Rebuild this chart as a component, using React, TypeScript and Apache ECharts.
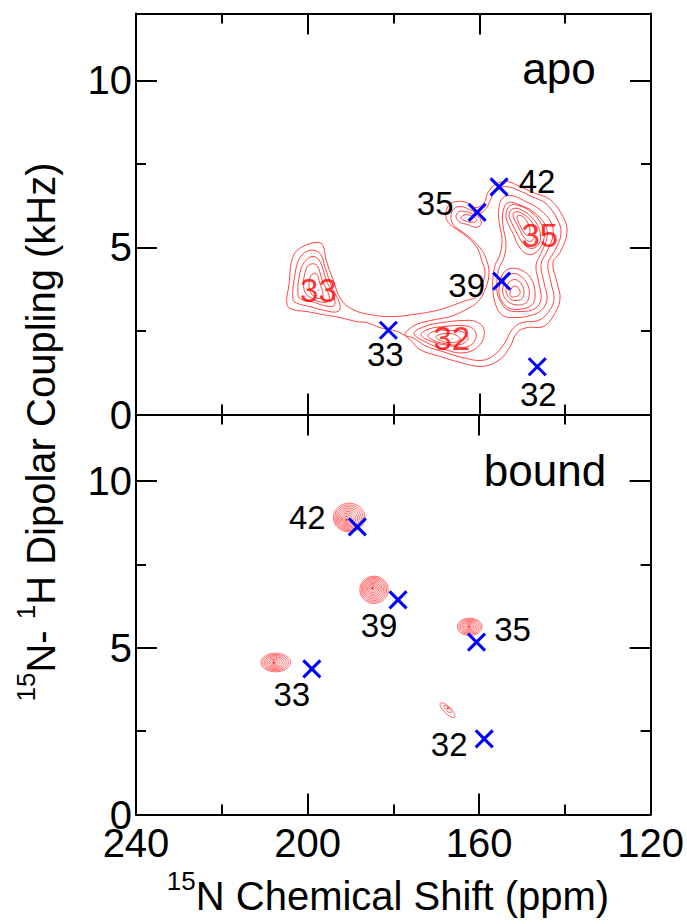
import React, { useEffect, useRef } from "react";
import * as echarts from "echarts";

const FONT = "'Liberation Sans', Arial, Helvetica, sans-serif";

// ---------- axes ----------
const shiftMin = 120;
const shiftMax = 240;
const shiftInterval = 40;
const couplingMin = 0;
const couplingMax = 12;
const couplingInterval = 5;
const couplingMinorInterval = 2.5;

// ---------- panel names ----------
const panelNames = ["apo", "bound"];

// ---------- predicted (blue X) positions ----------
const apoMarkerNames = ["42", "35", "39", "33", "32"];
const apoMarkerShift = [155.4, 160.5, 154.8, 181.2, 146.5];
const apoMarkerDC = [6.81, 6.05, 3.99, 2.52, 1.43];

const boundMarkerNames = ["42", "39", "35", "33", "32"];
const boundMarkerShift = [188.4, 178.9, 160.6, 199.0, 158.8];
const boundMarkerDC = [8.63, 6.44, 5.17, 4.37, 2.27];

// ---------- apo peak assignments (red labels) ----------
const apoPeakNames = ["33", "35", "32"];
const apoPeakShift = [197.5, 145.9, 166.4];
const apoPeakDC = [3.72, 5.36, 2.27];

// ---------- apo contour lines [ppm, kHz] ----------
const apoOuter = [
  [204.82, 3.29], [204.35, 3.89], [203.42, 4.73], [201.09, 5.03], [197.59, 5.15], [196.43, 5.06],
  [195.73, 4.64], [194.1, 4.04], [192.23, 3.44], [189.44, 3.14], [185.48, 2.99], [180.82, 2.93],
  [175.46, 2.99], [169.17, 3.14], [163.81, 3.38], [160.31, 3.56], [159.15, 3.95], [158.68, 4.28],
  [159.38, 4.58], [160.31, 4.94], [162.18, 5.24], [164.51, 5.48], [166.84, 5.69], [167.77, 5.92],
  [167.3, 6.22], [165.44, 6.37], [162.87, 6.34], [160.78, 6.19], [158.91, 6.34], [157.98, 6.64],
  [156.35, 6.88], [153.55, 6.97], [150.52, 6.82], [147.5, 6.64], [143.53, 6.43], [140.51, 5.92],
  [139.57, 5.45], [141.2, 4.85], [142.84, 4.55], [141.9, 3.95], [141.2, 3.44], [142.84, 2.93],
  [145.16, 2.63], [148.89, 2.6], [151.22, 2.45], [152.85, 2.03], [155.18, 1.65], [159.15, 1.44],
  [164.51, 1.56], [169.17, 1.74], [173.83, 1.94], [176.16, 2.24], [178.49, 2.45], [180.82, 2.54],
  [183.15, 2.6], [186.18, 2.75], [188.51, 2.78], [192.47, 2.9], [196.43, 2.99], [200.16, 3.08],
  [203.42, 3.14],
];
const apoLeft2 = [
  [203.42, 3.44], [202.95, 4.19], [201.79, 4.7], [199.46, 4.91], [197.13, 4.82], [195.96, 4.4],
  [194.33, 3.8], [192.47, 3.29], [192.93, 3.08], [195.96, 3.11], [199.46, 3.23], [202.25, 3.32],
];
const apoLeft3 = [
  [202.25, 3.56], [201.79, 4.25], [200.62, 4.58], [198.76, 4.73], [197.13, 4.58], [195.73, 4.04],
  [193.86, 3.5], [193.86, 3.26], [196.19, 3.26], [198.99, 3.38], [201.32, 3.44],
];
const apoLeft4 = [
  [200.85, 3.74], [200.62, 4.25], [199.46, 4.49], [197.83, 4.46], [196.66, 4.04], [195.03, 3.56],
  [195.26, 3.38], [197.36, 3.38], [199.69, 3.53],
];
const apoLeft5 = [
  [199.69, 3.83], [199.22, 4.16], [198.06, 4.22], [197.13, 3.92], [196.43, 3.56], [197.36, 3.47],
  [198.99, 3.59],
];
const apoRight2 = [
  [177.32, 2.39], [175.22, 2.66], [171.5, 2.81], [166.84, 2.93], [163.11, 3.14], [160.31, 3.38],
  [158.45, 3.8], [157.75, 4.25], [158.21, 4.58], [159.38, 4.91], [161.48, 5.21], [163.81, 5.45],
  [166.14, 5.69], [166.6, 5.95], [165.9, 6.16], [164.27, 6.22], [162.18, 6.13], [160.31, 6.01],
  [158.45, 6.16], [157.28, 6.46], [155.88, 6.73], [153.55, 6.82], [150.76, 6.7], [147.73, 6.52],
  [144.47, 6.31], [141.9, 5.86], [140.97, 5.42], [142.37, 4.91], [144.0, 4.52], [143.3, 3.95],
  [142.6, 3.44], [144.0, 3.05], [146.33, 2.81], [150.06, 2.75], [152.39, 2.54], [154.02, 2.15],
  [156.35, 1.8], [159.38, 1.62], [164.04, 1.71], [168.47, 1.88], [172.66, 2.06], [175.22, 2.28],
];
const apoMain3 = [
  [156.82, 4.1], [156.35, 4.46], [155.18, 4.79], [154.72, 5.24], [155.42, 5.78], [155.42, 6.19],
  [154.49, 6.49], [152.39, 6.55], [149.13, 6.37], [145.86, 6.13], [143.3, 5.75], [142.84, 5.36],
  [144.23, 4.88], [145.63, 4.49], [144.93, 3.95], [144.23, 3.44], [145.63, 3.11], [148.19, 2.96],
  [151.69, 2.9], [154.49, 2.96], [156.12, 3.26], [156.82, 3.68],
];
const apoMain4 = [
  [155.88, 4.01], [155.42, 4.37], [154.25, 4.7], [153.79, 5.12], [154.49, 5.66], [154.49, 6.07],
  [153.32, 6.34], [150.76, 6.28], [147.5, 6.07], [144.7, 5.69], [144.23, 5.3], [145.63, 4.82],
  [146.8, 4.46], [146.1, 3.92], [145.63, 3.44], [147.03, 3.17], [150.52, 3.08], [153.55, 3.14],
  [155.18, 3.41], [155.88, 3.68],
];
const apo39a = [
  [155.18, 3.92], [154.49, 4.22], [152.62, 4.37], [150.06, 4.31], [147.96, 4.07], [147.03, 3.68],
  [147.5, 3.32], [149.59, 3.17], [152.85, 3.17], [154.72, 3.38], [155.42, 3.65],
];
const apo39b = [
  [154.49, 3.8], [153.79, 4.1], [152.16, 4.22], [150.29, 4.13], [148.66, 3.86], [148.43, 3.53],
  [149.36, 3.32], [151.92, 3.29], [153.79, 3.44], [154.49, 3.62],
];
const apo39c = [
  [153.79, 3.71], [153.09, 3.95], [151.69, 4.04], [150.29, 3.92], [149.59, 3.68], [150.06, 3.47],
  [151.69, 3.41], [153.09, 3.5],
];
const apo39d = [
  [152.85, 3.65], [152.16, 3.83], [150.99, 3.8], [150.52, 3.62], [151.46, 3.53], [152.62, 3.53],
];
const apo35a = [
  [153.79, 5.98], [152.85, 6.25], [150.76, 6.25], [147.73, 6.04], [145.4, 5.66], [144.93, 5.27],
  [146.56, 4.88], [148.66, 4.79], [150.76, 5.03], [152.16, 5.42], [153.32, 5.72],
];
const apo35b = [
  [153.09, 5.98], [152.16, 6.16], [150.29, 6.13], [147.73, 5.89], [146.1, 5.57], [145.86, 5.18],
  [147.5, 4.97], [149.59, 5.09], [151.22, 5.42], [152.39, 5.72],
];
const apo35c = [
  [152.16, 5.98], [151.22, 6.07], [149.59, 5.98], [147.73, 5.75], [147.03, 5.42], [147.96, 5.18],
  [149.36, 5.27], [150.76, 5.57],
];
const apo35d = [
  [151.22, 5.92], [150.29, 5.95], [148.89, 5.78], [148.19, 5.48], [148.89, 5.36], [150.29, 5.6],
];
const apoUpper2 = [
  [165.44, 5.92], [164.74, 6.07], [163.11, 6.07], [161.24, 5.98], [159.85, 5.86], [159.61, 5.69],
  [160.78, 5.6], [162.87, 5.69], [164.51, 5.75],
];
const apoUpper3 = [
  [164.27, 5.89], [163.11, 5.98], [161.48, 5.92], [160.54, 5.81], [161.71, 5.75], [163.57, 5.81],
];
const apo32a = [
  [175.22, 2.42], [172.89, 2.63], [168.7, 2.75], [164.04, 2.81], [160.78, 2.78], [158.91, 2.54],
  [159.85, 2.09], [163.34, 1.85], [168.0, 1.94], [172.19, 2.15],
];
const apo32b = [
  [173.59, 2.39], [171.5, 2.57], [168.23, 2.63], [164.04, 2.66], [161.48, 2.57], [160.78, 2.3],
  [162.64, 2.03], [166.84, 2.06], [171.03, 2.18],
];
const apo32c = [
  [171.96, 2.36], [170.1, 2.51], [167.07, 2.51], [164.04, 2.48], [162.64, 2.27], [164.51, 2.09],
  [168.0, 2.12], [170.56, 2.21],
];
const apo32d = [
  [170.1, 2.33], [168.23, 2.42], [165.67, 2.39], [164.51, 2.24], [166.6, 2.15], [168.93, 2.21],
];
const apoContours = [
  apoOuter, apoLeft2, apoLeft3, apoLeft4, apoLeft5, apoRight2, apoMain3, apoMain4,
  apo39a, apo39b, apo39c, apo39d, apo35a, apo35b, apo35c, apo35d, apoUpper2, apoUpper3,
  apo32a, apo32b, apo32c, apo32d,
];

// ---------- bound peaks (nested contour blobs) ----------
const boundInnerShift = [190.9, 184.85, 162.34, 207.85, 167.3];
const boundInnerDC = [8.84, 6.79, 5.63, 4.55, 3.19];
const boundOuterShift = [190.3, 184.5, 162.18, 207.43, 167.35];
const boundOuterDC = [8.91, 6.74, 5.63, 4.56, 3.13];
const boundHalfWidth = [3.68, 3.31, 2.87, 3.45, 2.33]; // ppm
const boundHalfHeight = [0.43, 0.41, 0.26, 0.28, 0.105]; // kHz
const boundRingCount = [10, 10, 8, 8, 2];

// ---------- styles / layout ----------
const blobTiltDeg = [0, 0, 0, 0, 45];
const apoLabelOffsets = [[38, -5], [-42, -9], [-35, 4], [-3, 24], [1, 28]];
const boundLabelOffsets = [[-50, -9], [-19, 26], [36, -13], [-20, 26], [-35, 6]];
const RED = "#ff0000";
const CONTOUR = "#ff3030";
const BLUE = "#0000ff";
const X_SYMBOL = "path://M0,0L20,20M20,0L0,20";

function xAxisDef(gridIndex: number, position: "top" | "bottom", showLabel: boolean) {
  return {
    type: "value",
    gridIndex,
    position,
    min: shiftMin,
    max: shiftMax,
    interval: shiftInterval,
    inverse: true,
    axisLine: { show: true, onZero: false, lineStyle: { color: "#000", width: 2 } },
    axisTick: { show: true, inside: true, length: 21, lineStyle: { color: "#000", width: 2 } },
    minorTick: { show: true, splitNumber: 2, length: 10, lineStyle: { color: "#000", width: 2 } },
    splitLine: { show: false },
    minorSplitLine: { show: false },
    axisLabel: {
      show: showLabel,
      fontSize: 40,
      fontFamily: FONT,
      color: "#000",
      margin: 8,
      showMinLabel: true,
      showMaxLabel: true,
    },
  };
}

function yAxisDef(gridIndex: number, position: "left" | "right", minor: boolean, showLabel: boolean) {
  return {
    type: "value",
    gridIndex,
    position,
    min: couplingMin,
    max: couplingMax,
    interval: minor ? couplingMinorInterval : couplingInterval,
    axisLine: { show: !minor, onZero: false, lineStyle: { color: "#000", width: 2 } },
    axisTick: { show: true, inside: true, length: minor ? 10 : 21, lineStyle: { color: "#000", width: 2 } },
    splitLine: { show: false },
    axisLabel: {
      show: showLabel,
      fontSize: 40,
      fontFamily: FONT,
      color: "#000",
      margin: 4,
      formatter: (v: number) => (v % couplingInterval === 0 ? String(v) : ""),
    },
  };
}

function markerSeries(
  xAxisIndex: number,
  yAxisIndex: number,
  names: string[],
  xs: number[],
  ys: number[],
  offsets: number[][]
) {
  return {
    type: "scatter",
    xAxisIndex,
    yAxisIndex,
    symbol: X_SYMBOL,
    symbolSize: 17,
    silent: true,
    z: 5,
    itemStyle: { color: BLUE, borderColor: BLUE, borderWidth: 3, opacity: 1 },
    label: {
      show: true,
      position: "inside",
      formatter: "{b}",
      fontSize: 33,
      fontFamily: FONT,
      color: "#000000",
      opacity: 1,
      textBorderWidth: 0,
      textBorderColor: "transparent",
    },
    data: names.map((n, i) => ({
      name: n,
      value: [xs[i], ys[i]],
      label: { offset: offsets[i] },
    })),
  };
}

function richTitle(text: string) {
  return {
    text,
    align: "center",
    verticalAlign: "middle",
    rich: {
      s: { fontSize: 26, fontFamily: FONT, fill: "#000", verticalAlign: "top" },
      m: { fontSize: 40, fontFamily: FONT, fill: "#000", verticalAlign: "top", padding: [8, 0, 0, 0] },
    },
  };
}

export default function App() {
  const ref = useRef<HTMLDivElement>(null);

  useEffect(() => {
    document.body.style.margin = "0";
    const chart = echarts.init(ref.current!, undefined, { renderer: "svg" });

    const option: any = {
      animation: false,
      backgroundColor: "#fff",
      textStyle: { fontFamily: FONT },
      grid: [
        { left: 136, top: 13.5, width: 515, height: 401 },
        { left: 136, top: 414.5, width: 515, height: 400 },
      ],
      xAxis: [
        xAxisDef(0, "bottom", false),
        xAxisDef(0, "top", false),
        xAxisDef(1, "bottom", true),
        xAxisDef(1, "top", false),
      ],
      yAxis: [
        yAxisDef(0, "left", false, true),
        yAxisDef(0, "left", true, false),
        yAxisDef(0, "right", false, false),
        yAxisDef(0, "right", true, false),
        yAxisDef(1, "left", false, true),
        yAxisDef(1, "left", true, false),
        yAxisDef(1, "right", false, false),
        yAxisDef(1, "right", true, false),
      ],
      graphic: [
        {
          type: "text",
          x: 559,
          y: 68,
          silent: true,
          style: {
            text: panelNames[0],
            fontSize: 44,
            fontFamily: FONT,
            fill: "#000",
            align: "center",
            verticalAlign: "middle",
          },
        },
        {
          type: "text",
          x: 545,
          y: 470,
          silent: true,
          style: {
            text: panelNames[1],
            fontSize: 44,
            fontFamily: FONT,
            fill: "#000",
            align: "center",
            verticalAlign: "middle",
          },
        },
        {
          type: "text",
          x: 388,
          y: 892,
          silent: true,
          style: richTitle("{s|15}{m|N Chemical Shift (ppm)}"),
        },
        {
          type: "text",
          x: 37,
          y: 432,
          rotation: Math.PI / 2,
          silent: true,
          style: richTitle("{s|15}{m|N- }{s|1}{m|H Dipolar Coupling (kHz)}"),
        },
      ],
      series: [
        {
          type: "custom",
          xAxisIndex: 0,
          yAxisIndex: 0,
          silent: true,
          z: 2,
          encode: { x: 0, y: 1 },
          data: apoContours.map((ring, i) => [ring[0][0], ring[0][1], i]),
          renderItem: (params: any, api: any) => {
            const ring = apoContours[params.dataIndex];
            const pts = ring.map((p) => api.coord(p));
            return {
              type: "polygon",
              shape: { points: pts, smooth: 0.4 },
              style: { fill: "rgba(0,0,0,0)", stroke: CONTOUR, lineWidth: 0.9 },
            };
          },
        },
        {
          type: "custom",
          xAxisIndex: 2,
          yAxisIndex: 4,
          silent: true,
          z: 2,
          encode: { x: 0, y: 1 },
          data: boundInnerShift.map((x, i) => [x, boundInnerDC[i]]),
          renderItem: (params: any, api: any) => {
            const i = params.dataIndex;
            const inner = api.coord([boundInnerShift[i], boundInnerDC[i]]);
            const outer = api.coord([boundOuterShift[i], boundOuterDC[i]]);
            const size = api.size([boundHalfWidth[i] * 2, boundHalfHeight[i] * 2]);
            const n = boundRingCount[i];
            const rot = (-blobTiltDeg[i] * Math.PI) / 180;
            const children: any[] = [];
            for (let k = 1; k <= n; k++) {
              const t = k / n;
              children.push({
                type: "ellipse",
                x: inner[0] + (outer[0] - inner[0]) * t,
                y: inner[1] + (outer[1] - inner[1]) * t,
                rotation: rot,
                shape: { cx: 0, cy: 0, rx: (size[0] / 2) * t, ry: (size[1] / 2) * t },
                style: { fill: "rgba(0,0,0,0)", stroke: CONTOUR, lineWidth: 0.7 },
              });
            }
            children.push({
              type: "circle",
              shape: { cx: inner[0], cy: inner[1], r: 0.9 },
              style: { fill: RED },
            });
            return { type: "group", children };
          },
        },
        markerSeries(0, 0, apoMarkerNames, apoMarkerShift, apoMarkerDC, apoLabelOffsets),
        markerSeries(2, 4, boundMarkerNames, boundMarkerShift, boundMarkerDC, boundLabelOffsets),
        {
          type: "scatter",
          xAxisIndex: 0,
          yAxisIndex: 0,
          symbol: "circle",
          symbolSize: 1,
          silent: true,
          z: 6,
          itemStyle: { color: RED },
          label: {
            show: true,
            position: "inside",
            formatter: "{b}",
            fontSize: 33,
            fontFamily: FONT,
            color: RED,
            textBorderWidth: 0,
            textBorderColor: "transparent",
          },
          data: apoPeakNames.map((n, i) => ({ name: n, value: [apoPeakShift[i], apoPeakDC[i]] })),
        },
      ],
    };

    chart.setOption(option);
    return () => chart.dispose();
  }, []);

  return <div ref={ref} style={{ width: 687, height: 924, background: "#fff" }} />;
}
